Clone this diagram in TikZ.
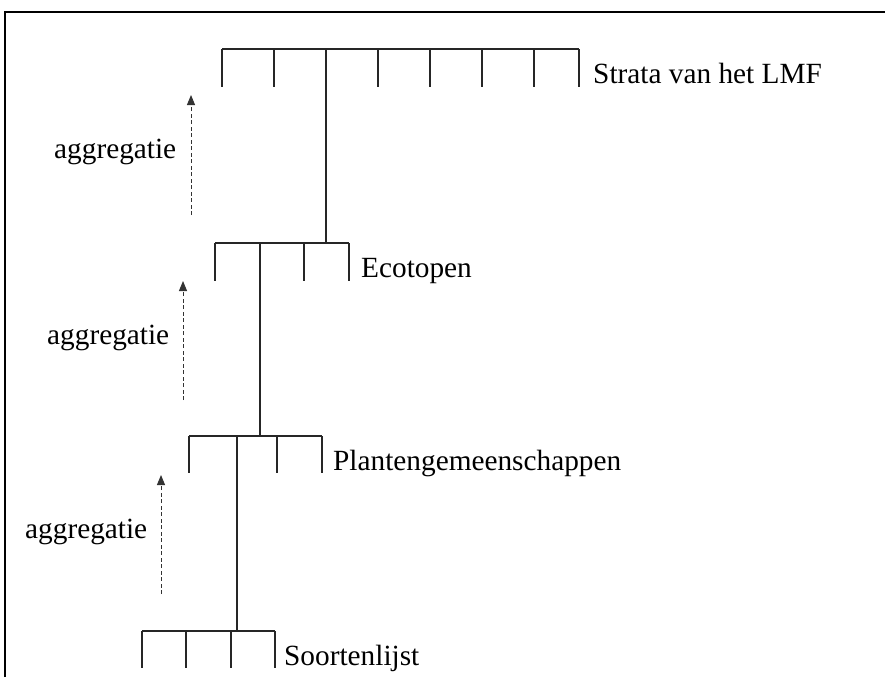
\documentclass[tikz,border=0pt]{standalone}
\usepackage{fontspec}
\setmainfont{Liberation Serif}
\usetikzlibrary{arrows.meta}
\begin{document}
\begin{tikzpicture}[x=1pt,y=-1pt,
  combline/.style={line width=1.3pt,black!85},
  framebox/.style={line width=2.6pt,line join=miter},
  aggarrow/.style={line width=1pt,black!80,dash pattern=on 4pt off 2.5pt,
    -{Triangle[length=10pt,width=8pt]}},
  lbl/.style={font=\fontsize{29.3}{35}\selectfont,anchor=base west,inner sep=0pt}]
\useasboundingbox (0,0) rectangle (885,677);

% open frame (top and left edge)
\draw[framebox] (5,677) -- (5,12) -- (885,12);

% level 1: strata
\draw[combline] (222,49) -- (579,49);
\foreach \x in {222,274,326,378,430,482,534,579}
  \draw[combline] (\x,49) -- (\x,87);
\coordinate (strataJ) at (326,49);
\node[lbl] (strata) at (593,83) {Strata van het LMF};

% level 2: ecotopen
\draw[combline] (215,243) -- (349,243);
\foreach \x in {215,260,304,349}
  \draw[combline] (\x,243) -- (\x,281);
\coordinate (ecoIn) at (326,243);
\coordinate (ecoJ) at (260,243);
\node[lbl] (eco) at (361,277) {Ecotopen};

% level 3: plantengemeenschappen
\draw[combline] (189,436) -- (322,436);
\foreach \x in {189,237,277,322}
  \draw[combline] (\x,436) -- (\x,473);
\coordinate (plantIn) at (260,436);
\coordinate (plantJ) at (237,436);
\node[lbl] (plant) at (333,470) {Plantengemeenschappen};

% level 4: soortenlijst
\draw[combline] (142,631) -- (275,631);
\foreach \x in {142,186,231,275}
  \draw[combline] (\x,631) -- (\x,668);
\coordinate (soortIn) at (237,631);
\node[lbl] (soort) at (284,665) {Soortenlijst};

% stems linking the levels
\draw[combline] (strataJ) -- (ecoIn);
\draw[combline] (ecoJ) -- (plantIn);
\draw[combline] (plantJ) -- (soortIn);

% aggregation arrows
\coordinate (a1s) at (191,215);
\coordinate (a1e) at (191,95);
\coordinate (a2s) at (183,400);
\coordinate (a2e) at (183,281);
\coordinate (a3s) at (161,594);
\coordinate (a3e) at (161,475);
\draw[aggarrow] (a1s) -- (a1e);
\draw[aggarrow] (a2s) -- (a2e);
\draw[aggarrow] (a3s) -- (a3e);
\node[lbl] (agg1) at (54,158) {aggregatie};
\node[lbl] (agg2) at (47,344) {aggregatie};
\node[lbl] (agg3) at (25,538) {aggregatie};
\end{tikzpicture}
\end{document}
